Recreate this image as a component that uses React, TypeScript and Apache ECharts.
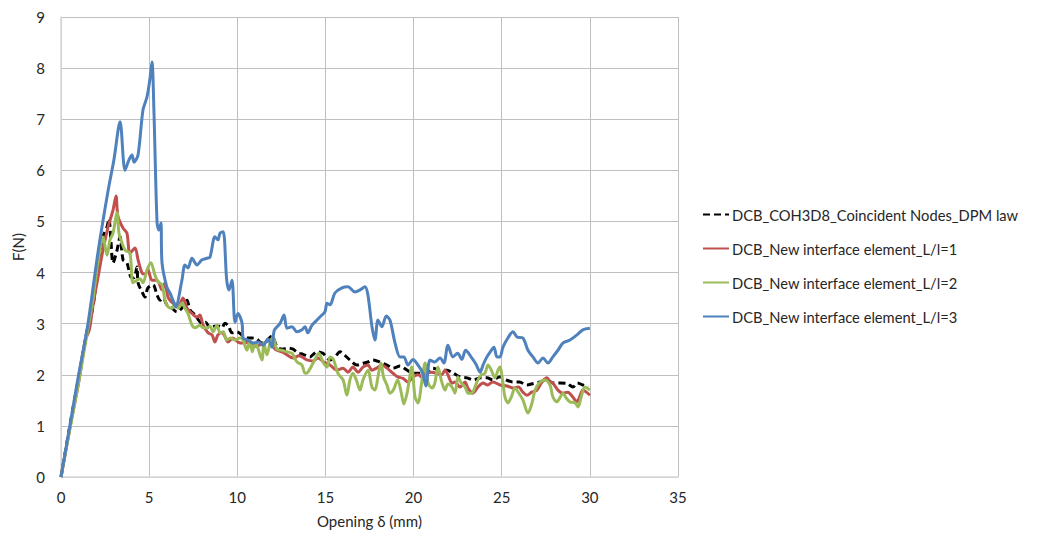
import React, { useEffect, useRef } from "react";
import * as echarts from "echarts";

const seriesNames = [
  "DCB_COH3D8_Coincident Nodes_DPM law",
  "DCB_New interface element_L/l=1",
  "DCB_New interface element_L/l=2",
  "DCB_New interface element_L/l=3",
];

const xTicks = [0, 5, 10, 15, 20, 25, 30, 35];
const yTicks = [0, 1, 2, 3, 4, 5, 6, 7, 8, 9];

const dpmData: number[][] = [
  [0,0],[0.5,1.0],[1,1.95],[1.5,2.9],[1.8,3.3],[2.1,4.1],[2.38,4.7],[2.61,4.89],[2.72,5.05],[2.84,4.58],[2.95,4.19],[3.18,4.44],[3.35,4.7],[3.52,4.25],[3.74,4.19],[3.97,3.91],[4.14,3.9],[4.31,4.11],[4.37,3.8],[4.6,3.62],[4.76,3.52],[4.93,3.7],[5.22,3.76],[5.45,3.56],[5.62,3.46],[5.8,3.5],[6.0,3.37],[6.3,3.3],[6.58,3.23],[6.92,3.33],[7.15,3.46],[7.32,3.27],[7.6,3.17],[8.0,3.01],[8.2,3.03],[8.45,2.92],[8.7,2.95],[9.0,2.95],[9.13,2.92],[9.3,3.01],[9.5,2.95],[9.7,2.82],[9.98,2.84],[10.25,2.78],[10.55,2.72],[10.83,2.72],[11.1,2.7],[11.4,2.62],[11.6,2.64],[11.97,2.76],[12.25,2.55],[12.55,2.5],[12.88,2.52],[13.16,2.5],[13.44,2.43],[13.73,2.4],[14.12,2.35],[14.52,2.45],[14.86,2.42],[15.26,2.29],[15.54,2.35],[15.83,2.45],[16.1,2.38],[16.39,2.29],[16.79,2.19],[17.1,2.22],[17.41,2.25],[17.7,2.29],[18.1,2.25],[18.49,2.19],[18.83,2.13],[19.23,2.17],[19.63,2.09],[19.97,2.03],[20.4,2.03],[20.76,2.03],[21.1,2.13],[21.5,2.09],[21.9,2.09],[22.25,2.03],[22.63,1.96],[23.03,1.94],[23.4,1.9],[23.8,1.94],[24.16,1.94],[24.5,1.9],[24.9,1.96],[25.25,1.9],[25.64,1.86],[26.0,1.86],[26.43,1.8],[26.8,1.83],[27.17,1.86],[27.57,1.9],[27.9,1.84],[28.3,1.84],[28.7,1.83],[29.04,1.76],[29.3,1.84],[29.6,1.8],[29.9,1.76]
];

const l1Data: number[][] = [
  [0,0],[0.5,0.95],[1,1.85],[1.4,2.7],[1.55,2.82],[1.65,2.95],[1.8,3.33],[2.1,3.91],[2.38,4.44],[2.67,4.89],[2.95,5.22],[3.12,5.5],[3.23,5.1],[3.52,4.87],[3.74,4.77],[3.91,4.38],[4.2,4.48],[4.37,4.25],[4.6,3.99],[4.76,3.97],[4.93,4.05],[5.16,3.85],[5.45,3.85],[5.73,3.66],[5.9,3.8],[6.07,3.52],[6.35,3.4],[6.64,3.33],[6.92,3.5],[7.15,3.3],[7.43,3.2],[7.71,3.13],[7.88,3.17],[8.05,2.98],[8.34,2.82],[8.57,2.78],[8.73,2.64],[8.9,2.78],[9.13,2.82],[9.3,2.75],[9.47,2.64],[9.75,2.72],[10.04,2.64],[10.33,2.62],[10.72,2.64],[11.0,2.56],[11.4,2.6],[11.86,2.68],[12.14,2.5],[12.53,2.45],[12.82,2.39],[13.16,2.33],[13.5,2.37],[13.95,2.29],[14.3,2.27],[14.58,2.33],[14.9,2.25],[15.26,2.19],[15.65,2.09],[16.0,2.13],[16.28,2.05],[16.56,2.15],[16.85,2.05],[17.13,2.15],[17.41,2.19],[17.64,2.09],[17.9,2.13],[18.2,2.19],[18.49,2.13],[18.83,2.03],[19.1,1.96],[19.4,1.93],[19.68,1.86],[19.97,1.96],[20.25,2.0],[20.53,1.94],[20.76,2.03],[21.04,2.05],[21.3,2.03],[21.6,2.0],[21.78,2.09],[21.95,2.0],[22.18,1.84],[22.35,1.86],[22.63,1.76],[22.92,1.86],[23.08,1.74],[23.37,1.64],[23.65,1.76],[23.94,1.84],[24.2,1.8],[24.5,1.86],[24.9,1.8],[25.3,1.78],[25.64,1.74],[25.95,1.76],[26.2,1.66],[26.43,1.6],[26.7,1.66],[27.0,1.7],[27.28,1.86],[27.57,1.94],[27.74,1.86],[27.9,1.84],[28.19,1.7],[28.47,1.64],[28.75,1.66],[29.04,1.56],[29.27,1.47],[29.4,1.55],[29.6,1.7],[29.8,1.66],[30.0,1.6]
];

const l2Data: number[][] = [
  [0,0],[0.5,0.93],[1,1.85],[1.5,2.85],[1.8,3.45],[2.05,4.1],[2.21,4.44],[2.38,4.7],[2.61,4.34],[2.78,4.64],[2.95,4.77],[3.18,5.17],[3.29,4.77],[3.46,4.58],[3.63,4.44],[3.91,4.38],[4.08,3.8],[4.31,3.85],[4.48,3.88],[4.65,3.8],[4.88,4.05],[5.1,4.19],[5.33,3.95],[5.5,3.82],[5.73,3.76],[5.9,3.46],[6.07,3.33],[6.3,3.3],[6.47,3.4],[6.64,3.3],[6.86,3.4],[7.03,3.3],[7.2,3.2],[7.43,2.97],[7.6,2.92],[7.88,2.97],[8.05,2.92],[8.28,2.92],[8.45,2.95],[8.62,2.84],[8.85,2.97],[9.02,2.82],[9.2,2.84],[9.4,2.68],[9.6,2.72],[9.87,2.68],[10.15,2.72],[10.3,2.7],[10.55,2.48],[10.7,2.66],[10.85,2.45],[11.0,2.62],[11.15,2.54],[11.4,2.29],[11.51,2.62],[11.68,2.39],[11.86,2.62],[12.03,2.74],[12.25,2.5],[12.53,2.48],[12.82,2.45],[13.1,2.42],[13.39,2.25],[13.67,2.19],[13.84,2.03],[14.0,2.05],[14.24,2.19],[14.4,2.3],[14.63,2.42],[14.86,2.25],[15.09,2.15],[15.26,2.35],[15.45,2.3],[15.71,2.03],[16.0,1.9],[16.22,1.6],[16.39,1.9],[16.56,2.03],[16.75,1.9],[16.96,1.7],[17.13,1.9],[17.41,2.09],[17.64,1.76],[17.81,1.7],[17.98,1.96],[18.15,2.23],[18.3,1.95],[18.49,1.8],[18.66,1.64],[18.85,1.7],[19.1,1.9],[19.3,1.65],[19.45,1.43],[19.63,1.64],[19.9,2.15],[20.08,1.57],[20.25,1.45],[20.48,1.9],[20.65,2.23],[20.82,1.84],[21.04,1.74],[21.2,1.83],[21.38,2.15],[21.6,1.86],[21.78,1.7],[21.95,1.82],[22.18,1.76],[22.35,1.64],[22.52,1.96],[22.7,1.84],[22.92,1.76],[23.1,1.64],[23.31,1.64],[23.48,1.76],[23.65,1.9],[23.85,2.0],[24.05,2.03],[24.22,2.19],[24.4,2.1],[24.62,1.94],[24.79,2.09],[24.9,2.15],[25.07,1.84],[25.18,1.57],[25.35,1.45],[25.55,1.57],[25.75,1.74],[25.95,1.65],[26.2,1.51],[26.49,1.25],[26.72,1.45],[26.89,1.7],[27.17,1.86],[27.45,1.9],[27.74,1.8],[27.9,1.57],[28.13,1.47],[28.3,1.55],[28.47,1.64],[28.65,1.55],[28.87,1.47],[29.16,1.45],[29.33,1.37],[29.5,1.55],[29.72,1.76],[30.0,1.7]
];

const l3Data: number[][] = [
  [0,0],[0.5,1.0],[1,2.0],[1.53,3.0],[2.1,4.4],[2.67,5.6],[3.0,6.2],[3.35,6.95],[3.63,6.0],[3.85,6.2],[4.03,6.3],[4.14,6.16],[4.37,6.3],[4.65,7.18],[4.88,7.44],[5.05,7.8],[5.16,8.12],[5.27,7.18],[5.45,4.97],[5.56,4.83],[5.67,4.97],[5.73,4.19],[6.0,3.72],[6.18,3.6],[6.35,3.46],[6.5,3.33],[6.86,3.85],[7.03,4.15],[7.2,4.09],[7.43,4.28],[7.71,4.15],[8.0,4.25],[8.28,4.28],[8.45,4.3],[8.73,4.7],[8.9,4.64],[9.02,4.77],[9.2,4.8],[9.4,3.85],[9.53,3.66],[9.7,3.85],[9.87,3.03],[10.04,3.2],[10.27,3.01],[10.33,2.72],[10.6,2.68],[10.9,2.62],[11.2,2.64],[11.46,2.58],[11.74,2.7],[11.97,2.54],[12.1,2.87],[12.42,3.0],[12.65,3.17],[12.82,2.91],[13.1,2.94],[13.39,2.84],[13.67,2.88],[13.84,2.94],[14.0,2.82],[14.24,2.97],[14.69,3.13],[14.97,3.23],[15.09,3.4],[15.26,3.37],[15.54,3.6],[15.94,3.7],[16.28,3.72],[16.68,3.62],[16.96,3.66],[17.24,3.72],[17.41,3.56],[17.64,2.94],[17.81,2.68],[17.98,3.07],[18.2,2.94],[18.45,3.15],[18.66,3.07],[18.95,2.62],[19.23,2.35],[19.45,2.35],[19.68,2.19],[19.97,2.3],[20.25,2.19],[20.5,2.05],[20.7,1.78],[20.93,2.29],[21.2,2.25],[21.5,2.33],[21.72,2.23],[21.95,2.58],[22.23,2.35],[22.5,2.42],[22.74,2.3],[22.95,2.48],[23.3,2.33],[23.55,2.2],[23.77,2.05],[23.95,2.2],[24.16,2.35],[24.35,2.45],[24.56,2.54],[24.73,2.35],[24.9,2.35],[25.07,2.54],[25.35,2.72],[25.64,2.84],[25.87,2.74],[26.2,2.72],[26.49,2.48],[26.77,2.35],[27.06,2.23],[27.34,2.33],[27.62,2.23],[27.9,2.35],[28.19,2.48],[28.47,2.62],[28.87,2.68],[29.27,2.78],[29.6,2.88],[30.0,2.91]
];

const FONT = "Lato, 'Open Sans', sans-serif";
const TEXT = "#262626";
const GRID = "#bfbfbf";

export default function App() {
  const ref = useRef<HTMLDivElement>(null);
  useEffect(() => {
    if (!ref.current) return;
    const chart = echarts.init(ref.current, undefined, { renderer: "svg" });
    const mk = (name: string, data: number[][], color: string, dashed: boolean) => ({
      name,
      type: "line",
      data,
      showSymbol: false,
      symbol: "none",
      smooth: 0.3,
      lineStyle: { color, width: 3, type: dashed ? [7, 4] : "solid" },
      itemStyle: { color },
    });
    chart.setOption({
      animation: false,
      backgroundColor: "#ffffff",
      textStyle: { fontFamily: FONT },
      grid: { left: 61, right: 368, top: 17, bottom: 56, containLabel: false },
      legend: {
        orient: "vertical",
        left: 702,
        top: 207,
        padding: 0,
        itemWidth: 26,
        itemHeight: 10,
        itemGap: 19,
        itemStyle: { opacity: 0, borderWidth: 0 },
        textStyle: { fontFamily: FONT, fontSize: 14.7, color: TEXT, padding: [0, 0, 0, -2] },
        data: seriesNames,
      },
      xAxis: {
        type: "value",
        min: xTicks[0],
        max: xTicks[xTicks.length - 1],
        interval: 5,
        name: "Opening δ (mm)",
        nameLocation: "middle",
        nameGap: 36,
        nameTextStyle: { fontFamily: FONT, fontSize: 15, color: TEXT },
        axisLine: { show: true, lineStyle: { color: "#d9d9d9", width: 1.5 } },
        axisTick: { show: false },
        axisLabel: { fontFamily: FONT, fontSize: 15, color: TEXT, margin: 12 },
        splitLine: { show: true, lineStyle: { color: GRID, width: 1 } },
      },
      yAxis: {
        type: "value",
        min: yTicks[0],
        max: yTicks[yTicks.length - 1],
        interval: 1,
        name: "F(N)",
        nameLocation: "middle",
        nameGap: 34,
        nameTextStyle: { fontFamily: FONT, fontSize: 15, color: TEXT },
        axisLine: { show: true, lineStyle: { color: "#d9d9d9", width: 1.5 } },
        axisTick: { show: false },
        axisLabel: { fontFamily: FONT, fontSize: 15, color: TEXT, margin: 16 },
        splitLine: { show: true, lineStyle: { color: GRID, width: 1 } },
      },
      series: [
        mk(seriesNames[0], dpmData, "#000000", true),
        mk(seriesNames[1], l1Data, "#C0504D", false),
        mk(seriesNames[2], l2Data, "#9BBB59", false),
        mk(seriesNames[3], l3Data, "#4F81BD", false),
      ],
    });
    return () => chart.dispose();
  }, []);
  return (
    <div
      ref={ref}
      style={{ position: "fixed", left: 0, top: 0, width: 1046, height: 533, background: "#fff" }}
    />
  );
}
